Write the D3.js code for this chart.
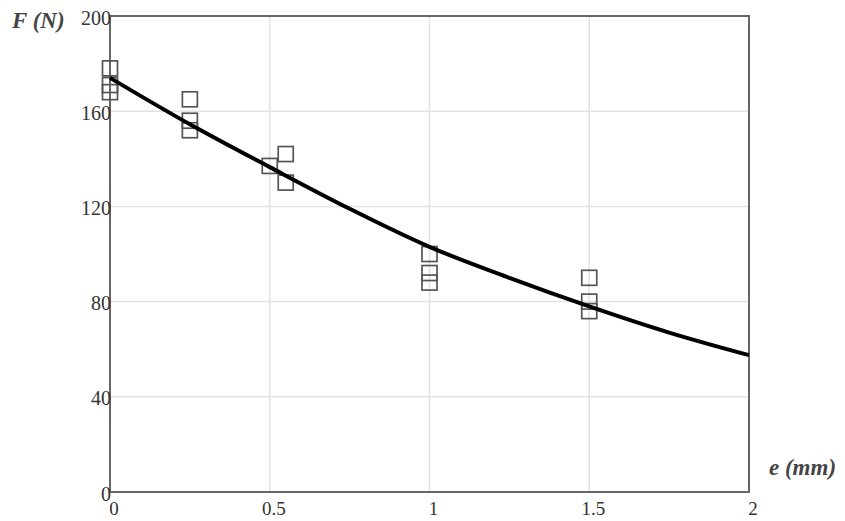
<!DOCTYPE html>
<html>
<head>
<meta charset="utf-8">
<script src="https://cdn.jsdelivr.net/npm/d3@7"></script>
<style>
  body { margin: 0; background: #fff; }
  svg { display: block; }
</style>
</head>
<body>
<div id="chart"></div>
<script>
// measured points (e in mm, F in N)
const measE = [0, 0, 0, 0.25, 0.25, 0.25, 0.5, 0.55, 0.55, 1, 1, 1, 1.5, 1.5, 1.5];
const measF = [178, 171, 168, 165, 156, 152, 137, 142, 130, 100, 92, 88, 90, 80, 76];

// fitted curve
const curveE = [0, 0.25, 0.5, 0.75, 1, 1.25, 1.5, 1.75, 2];
const curveF = [174, 154.5, 136.5, 119, 103, 90, 78, 67, 57.5];

const xTicks = [0, 0.5, 1, 1.5, 2];
const yTicks = [0, 40, 80, 120, 160, 200];

const width = 845, height = 521;
const margin = {top: 16, right: 96, bottom: 29, left: 110};

const svg = d3.select('#chart').append('svg')
  .attr('width', width)
  .attr('height', height);

const x = d3.scaleLinear().domain([0, 2]).range([margin.left, width - margin.right]);
const y = d3.scaleLinear().domain([0, 200]).range([height - margin.bottom, margin.top]);

// grid
svg.append('g')
  .selectAll('line')
  .data(xTicks.slice(1, -1))
  .join('line')
  .attr('x1', d => x(d)).attr('x2', d => x(d))
  .attr('y1', y(0)).attr('y2', y(200))
  .attr('stroke', '#e2e2e2')
  .attr('stroke-width', 1.5);

svg.append('g')
  .selectAll('line')
  .data(yTicks.slice(1, -1))
  .join('line')
  .attr('x1', x(0)).attr('x2', x(2))
  .attr('y1', d => y(d)).attr('y2', d => y(d))
  .attr('stroke', '#e2e2e2')
  .attr('stroke-width', 1.5);

// frame
svg.append('rect')
  .attr('x', x(0)).attr('y', y(200))
  .attr('width', x(2) - x(0))
  .attr('height', y(0) - y(200))
  .attr('fill', 'none')
  .attr('stroke', '#666')
  .attr('stroke-width', 2);

// tick labels
svg.append('g')
  .attr('font-family', '"Liberation Serif", serif')
  .attr('font-size', 20)
  .attr('fill', '#333')
  .attr('text-anchor', 'end')
  .selectAll('text')
  .data(yTicks)
  .join('text')
  .attr('x', x(0) + 1)
  .attr('y', d => y(d) + 4)
  .attr('dominant-baseline', 'middle')
  .text(d => d);

svg.append('g')
  .attr('font-family', '"Liberation Serif", serif')
  .attr('font-size', 19)
  .attr('fill', '#333')
  .attr('text-anchor', 'middle')
  .selectAll('text')
  .data(xTicks)
  .join('text')
  .attr('x', d => x(d) + 4)
  .attr('y', y(0) + 23)
  .text(d => d);

// axis titles
svg.append('text')
  .attr('x', 12).attr('y', 28)
  .attr('font-family', '"Liberation Serif", serif')
  .attr('font-style', 'italic')
  .attr('font-weight', 'bold')
  .attr('font-size', 23)
  .attr('fill', '#444')
  .text('F (N)');

svg.append('text')
  .attr('x', 769).attr('y', 475)
  .attr('font-family', '"Liberation Serif", serif')
  .attr('font-style', 'italic')
  .attr('font-weight', 'bold')
  .attr('font-size', 23)
  .attr('fill', '#444')
  .text('e (mm)');

// measured squares
const sq = 15;
svg.append('g')
  .selectAll('rect')
  .data(measE.map((e, i) => ({e, f: measF[i]})))
  .join('rect')
  .attr('x', d => x(d.e) - sq / 2)
  .attr('y', d => y(d.f) - sq / 2)
  .attr('width', sq).attr('height', sq)
  .attr('fill', 'none')
  .attr('stroke', '#555')
  .attr('stroke-width', 1.7);

// curve
const line = d3.line()
  .x(d => x(d[0]))
  .y(d => y(d[1]))
  .curve(d3.curveMonotoneX);

svg.append('path')
  .attr('d', line(curveE.map((e, i) => [e, curveF[i]])))
  .attr('fill', 'none')
  .attr('stroke', '#000')
  .attr('stroke-width', 4);
</script>
</body>
</html>
